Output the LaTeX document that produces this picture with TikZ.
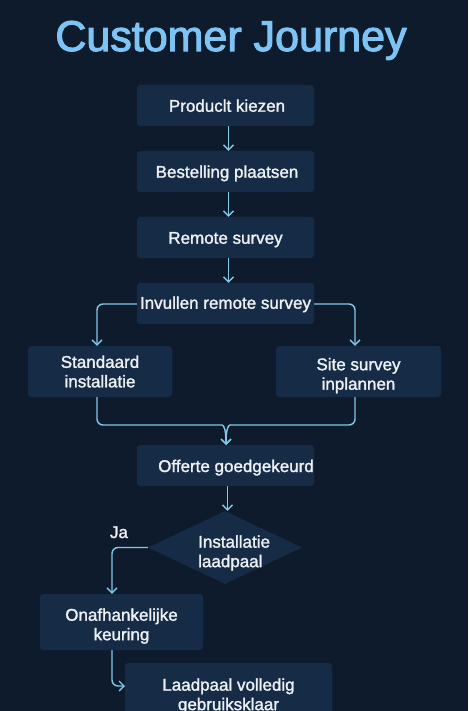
\documentclass[tikz,border=0pt]{standalone}
\usepackage{fontspec}
\setmainfont{Liberation Sans}
\font\medfnt="Liberation Sans:embolden=1.6" at 17pt
\font\titfnt="Liberation Sans:embolden=2.5" at 43pt
\newcommand{\medf}{\medfnt\setlength{\baselineskip}{19.5pt}\relax}
\usetikzlibrary{arrows.meta,shapes.geometric}
\definecolor{bgc}{HTML}{0D1B2C}
\definecolor{boxc}{HTML}{162B46}
\definecolor{titlec}{HTML}{7DC4F5}
\definecolor{arr}{HTML}{84C8E8}
\definecolor{txt}{HTML}{EEF1F4}
\newcommand{\tallstrut}{\rule{0pt}{20.5pt}}
\tikzset{
  mbox/.style={fill=boxc, rounded corners=3pt, inner sep=0pt, text=txt,
    font=\medf, align=center},
  box/.style={mbox, text height=12.5pt, text depth=0pt},
  conn/.style={draw=arr, line width=1.4pt, rounded corners=6pt,
    -{Straight Barb[length=5pt,width=10pt,line width=1.3pt]}},
  lbl/.style={text=txt, font=\medf, inner sep=0pt},
}
\begin{document}
\begin{tikzpicture}[x=1pt,y=-1pt]
\fill[bgc] (0,0) rectangle (468,711);
\useasboundingbox (0,0) rectangle (468,711);
\node[text=titlec, font=\titfnt, anchor=base, inner sep=0pt] (title) at (231,51) {Customer Journey};

\node[box, minimum width=177pt, minimum height=41pt] (b1) at (225.5,105.5) {\hspace{3pt}Produclt kiezen};
\node[box, minimum width=177pt, minimum height=41pt] (b2) at (225.5,171.5) {\hspace{3pt}Bestelling plaatsen};
\node[box, minimum width=177pt, minimum height=41pt] (b3) at (225.5,237.5) {Remote survey};
\node[box, minimum width=177pt, minimum height=41pt] (b4) at (225.5,303.5) {\raisebox{1pt}{Invullen remote survey}};
\node[mbox, minimum width=144pt, minimum height=51pt] (std) at (100,371.5) {Standaard\\installatie};
\node[mbox, minimum width=165pt, minimum height=51pt] (site) at (358.5,371.5) {\tallstrut Site survey\\inplannen};
\node[box, minimum width=177pt, minimum height=41pt] (off) at (225.5,465.5) {};
\begin{scope}
\clip[rounded corners=3pt] (off.south west) rectangle (off.north east);
\node[lbl, anchor=base west] (offt) at (158,472) {Offerte goedgekeurd};
\end{scope}
\node[diamond, fill=boxc, inner sep=0pt, minimum width=154pt, minimum height=73pt, aspect=2.1] (dia) at (225,547.5) {};
\node[lbl, align=left, anchor=west] (diat) at (198,553) {Installatie\\laadpaal};
\node[mbox, minimum width=163pt, minimum height=56pt] (onaf) at (121.5,622) {\tallstrut Onafhankelijke\\keuring};
\node[mbox, minimum width=207pt, minimum height=66pt] (lv) at (228.5,696) {Laadpaal volledig\\gebruiksklaar};
\node[lbl, anchor=base] (ja) at (119,538) {Ja};

\draw[conn] ([xshift=3pt]b1.south) -- ([xshift=3pt]b2.north);
\draw[conn] ([xshift=3pt]b2.south) -- ([xshift=3pt]b3.north);
\draw[conn] ([xshift=3pt]b3.south) -- ([xshift=3pt]b4.north);
\draw[conn] ([yshift=-0.5pt]b4.west) -| ([xshift=-3pt]std.north);
\draw[conn] ([yshift=-0.5pt]b4.east) -| ([xshift=-3.5pt]site.north);
\coordinate (ml) at (216,425);
\coordinate (mr) at (236,425);
\coordinate (mt) at (226,445);
\draw[conn] ([xshift=-3pt]std.south) |- (ml) .. controls (224,425) and (226,430) .. (mt);
\draw[conn] ([xshift=-3.5pt]site.south) |- (mr) .. controls (228,425) and (226,430) .. (mt);
\draw[conn] ([xshift=2pt]off.south) -- ([xshift=2pt]off.south |- dia.north);
\draw[conn] (dia.west) -| ([xshift=-9.5pt]onaf.north);
\coordinate (lvin) at (125,686);
\draw[conn] ([xshift=-9.5pt]onaf.south) |- (lvin);
\end{tikzpicture}
\end{document}
